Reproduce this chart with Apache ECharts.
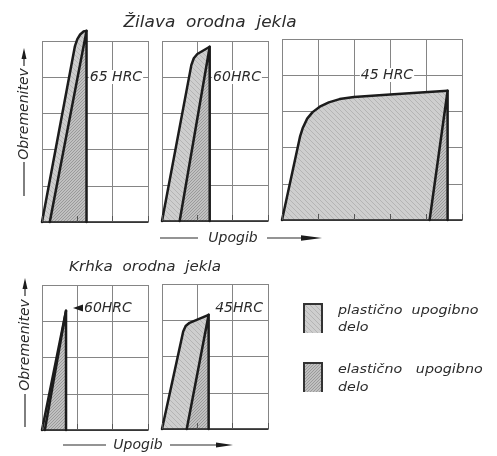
<!DOCTYPE html>
<html>
<head>
<meta charset="utf-8">
<script src="https://cdn.jsdelivr.net/npm/echarts@6/dist/echarts.min.js"></script>
<style>
  html, body { margin: 0; padding: 0; background: #fff; }
  #chart { width: 497px; height: 456px; }
</style>
</head>
<body>
<div id="chart"></div>
<script>
// Hardness label of each panel
const panelLabels = ['65 HRC', '60HRC', '45 HRC', '60HRC', '45HRC'];
const groupTitles = ['Žilava  orodna  jekla', 'Krhka  orodna  jekla'];
const loadName = 'Obremenitev';
const deflectionName = 'Upogib';
const legendNames = ['plastično  upogibno\ndelo', 'elastično   upogibno\ndelo'];

// Loading curves [deflection, load] in grid units, each ending at fracture
const tough65Curve = [[0, 0], [0.93, 4.85], [1.0, 5.05], [1.08, 5.18], [1.17, 5.26], [1.26, 5.28]];
const tough60Curve = [[0, 0], [0.83, 4.33], [0.9, 4.52], [1.0, 4.64], [1.35, 4.84]];
const tough45Curve = [[0, 0], [0.5, 2.3], [0.58, 2.55], [0.7, 2.8], [0.85, 2.98], [1.05, 3.13],
                      [1.3, 3.25], [1.6, 3.34], [2.0, 3.4], [3.0, 3.47], [4.6, 3.57]];
const brittle60Curve = [[0, 0], [0.68, 3.29]];
const brittle45Curve = [[0, 0], [0.6, 2.69], [0.67, 2.84], [0.78, 2.93], [1.32, 3.15]];

// Deflection where the elastic unloading line from fracture returns to zero load
const unloadFoot = [0.22, 0.5, 4.1, 0.08, 0.7];

// Axis extents (grid cells) of each panel
const xMax = [3, 3, 5, 3, 3];
const yMax = [5, 5, 5, 4, 4];

const curves = [tough65Curve, tough60Curve, tough45Curve, brittle60Curve, brittle45Curve];

// ---------- drawing ----------
function hatch(bg, fg, size, lw, back) {
  const c = document.createElement('canvas');
  c.width = c.height = size;
  const g = c.getContext('2d');
  g.fillStyle = bg; g.fillRect(0, 0, size, size);
  g.strokeStyle = fg; g.lineWidth = lw;
  g.beginPath();
  if (back) {
    g.moveTo(-1, -1); g.lineTo(size + 1, size + 1);
    g.moveTo(-1, size - 1); g.lineTo(1, size + 1);
    g.moveTo(size - 1, -1); g.lineTo(size + 1, 1);
  } else {
    g.moveTo(-1, size + 1); g.lineTo(size + 1, -1);
    g.moveTo(-1, 1); g.lineTo(1, -1);
    g.moveTo(size - 1, size + 1); g.lineTo(size + 1, size - 1);
  }
  g.stroke();
  return c;
}
const plasticFill = { image: hatch('#cecece', '#b4b4b4', 5, 1, true), repeat: 'repeat' };
const elasticFill = { image: hatch('#c0c0c0', '#9a9a9a', 3, 1, false), repeat: 'repeat' };

const INK = '#1c1c1c';
const TEXT = '#2b2b2b';
const FONT = 'italic 14px "DejaVu Sans"';
const GRIDLINE = '#858585';

const gridBoxes = [
  { left: 42, top: 41, width: 106, height: 181 },
  { left: 162, top: 41, width: 106, height: 180 },
  { left: 282, top: 39, width: 180, height: 181 },
  { left: 42, top: 285, width: 106, height: 145 },
  { left: 162, top: 284, width: 106, height: 145 }
];

const xAxes = [], yAxes = [], series = [];
gridBoxes.forEach((_, i) => {
  // cell grid
  xAxes.push({
    gridIndex: i, type: 'value', min: 0, max: xMax[i], interval: 1,
    axisLine: { show: false }, axisTick: { show: false }, axisLabel: { show: false },
    splitLine: { show: true, lineStyle: { color: GRIDLINE, width: 1 } }
  });
  // base line with short inner ticks, drawn over the shaded areas
  xAxes.push({
    gridIndex: i, type: 'value', min: 0, max: xMax[i], interval: 1, position: 'bottom', z: 10,
    axisLine: { show: true, lineStyle: { color: INK, width: 1.6 } },
    axisTick: { show: true, inside: true, length: 6, lineStyle: { color: '#555', width: 1 } },
    axisLabel: { show: false }, splitLine: { show: false }
  });
  yAxes.push({
    gridIndex: i, type: 'value', min: 0, max: yMax[i], interval: 1,
    axisLine: { show: false }, axisTick: { show: false }, axisLabel: { show: false },
    splitLine: { show: true, lineStyle: { color: GRIDLINE, width: 1 } }
  });

  const curve = curves[i];
  const foot = unloadFoot[i];
  series.push({
    type: 'custom', name: panelLabels[i], xAxisIndex: 2 * i, yAxisIndex: i,
    data: [0], clip: false, z: 3, silent: true,
    renderItem: (params, api) => {
      const pt = p => api.coord(p);
      const peak = curve[curve.length - 1];
      const plastic = curve.map(pt).concat([pt([foot, 0])]);
      const elastic = [pt(peak), pt([peak[0], 0]), pt([foot, 0])];
      const outline = { stroke: INK, lineWidth: 2.5, fill: null, lineJoin: 'round', lineCap: 'round' };
      return {
        type: 'group',
        children: [
          { type: 'polygon', shape: { points: plastic }, style: { fill: plasticFill } },
          { type: 'polygon', shape: { points: elastic }, style: { fill: elasticFill } },
          { type: 'polyline', shape: { points: curve.map(pt) }, style: outline },
          { type: 'polyline', shape: { points: [pt([foot, 0]), pt(peak), pt([peak[0], 0])] }, style: outline }
        ]
      };
    }
  });
});

function seg(x1, y1, x2, y2) {
  return { type: 'line', z: 20, shape: { x1: x1, y1: y1, x2: x2, y2: y2 }, style: { stroke: TEXT, lineWidth: 1.2 } };
}
function head(points) {
  return { type: 'polygon', z: 20, shape: { points: points }, style: { fill: INK } };
}
function labelled(x, y, text, align) {
  return {
    type: 'text', x: x, y: y, z: 20,
    style: { text: text, font: FONT, fill: TEXT, align: align || 'center', verticalAlign: 'middle',
             backgroundColor: '#fff', padding: [0, 1] }
  };
}

const graphic = [
  // group titles
  { type: 'text', x: 210, y: 23, z: 20, scaleX: 1.13,
    style: { text: groupTitles[0], font: 'italic 15px "DejaVu Sans"', fill: TEXT, align: 'center', verticalAlign: 'middle' } },
  { type: 'text', x: 145, y: 267, z: 20, scaleX: 1.08,
    style: { text: groupTitles[1], font: 'italic 14px "DejaVu Sans"', fill: TEXT, align: 'center', verticalAlign: 'middle' } },

  // hardness labels
  labelled(116, 77, panelLabels[0]),
  labelled(237, 77, panelLabels[1]),
  labelled(387, 75, panelLabels[2]),
  { type: 'text', x: 84, y: 308, z: 20,
    style: { text: panelLabels[3], font: FONT, fill: TEXT, align: 'left', verticalAlign: 'middle' } },
  head([[73, 308], [83, 304.5], [83, 311.5]]),
  { type: 'text', x: 263, y: 308, z: 20,
    style: { text: panelLabels[4], font: FONT, fill: TEXT, align: 'right', verticalAlign: 'middle' } },

  // load axis names (vertical)
  { type: 'text', x: 24, y: 114, z: 20, rotation: Math.PI / 2,
    style: { text: loadName, font: FONT, fill: TEXT, align: 'center', verticalAlign: 'middle' } },
  seg(24, 162, 24, 196), seg(24, 58, 24, 66),
  head([[24, 48], [21.5, 59], [26.5, 59]]),
  { type: 'text', x: 25, y: 345, z: 20, rotation: Math.PI / 2,
    style: { text: loadName, font: FONT, fill: TEXT, align: 'center', verticalAlign: 'middle' } },
  seg(25, 394, 25, 427), seg(25, 288, 25, 296),
  head([[25, 278], [22.5, 289], [27.5, 289]]),

  // deflection axis names
  { type: 'text', x: 233, y: 238, z: 20,
    style: { text: deflectionName, font: FONT, fill: TEXT, align: 'center', verticalAlign: 'middle' } },
  seg(160, 238, 198, 238), seg(267, 238, 303, 238),
  head([[301, 235.3], [322, 238], [301, 240.7]]),
  { type: 'text', x: 138, y: 445, z: 20,
    style: { text: deflectionName, font: FONT, fill: TEXT, align: 'center', verticalAlign: 'middle' } },
  seg(63, 445, 106, 445), seg(170, 445, 218, 445),
  head([[216, 442.5], [233, 445], [216, 447.5]]),

  // key
  { type: 'rect', z: 20, shape: { x: 304, y: 304, width: 18, height: 29 }, style: { fill: plasticFill } },
  { type: 'polyline', z: 21, shape: { points: [[304, 333], [304, 304], [322, 304], [322, 333]] },
    style: { stroke: '#333', lineWidth: 2, fill: null } },
  { type: 'text', x: 338, y: 310, z: 20, scaleX: 1.1,
    style: { text: legendNames[0], font: 'italic 13px "DejaVu Sans"', fill: TEXT, align: 'left', verticalAlign: 'top',
             lineHeight: 17, y: -8 } },
  { type: 'rect', z: 20, shape: { x: 304, y: 363, width: 18, height: 29 }, style: { fill: elasticFill } },
  { type: 'polyline', z: 21, shape: { points: [[304, 392], [304, 363], [322, 363], [322, 392]] },
    style: { stroke: '#333', lineWidth: 2, fill: null } },
  { type: 'text', x: 338, y: 369, z: 20, scaleX: 1.1,
    style: { text: legendNames[1], font: 'italic 13px "DejaVu Sans"', fill: TEXT, align: 'left', verticalAlign: 'top',
             lineHeight: 18, y: -8 } }
];

const chart = echarts.init(document.getElementById('chart'), null, { renderer: 'canvas' });
chart.setOption({
  backgroundColor: '#ffffff',
  animation: false,
  grid: gridBoxes.map(g => Object.assign({ containLabel: false }, g)),
  xAxis: xAxes,
  yAxis: yAxes,
  series: series,
  graphic: graphic
});
</script>
</body>
</html>
